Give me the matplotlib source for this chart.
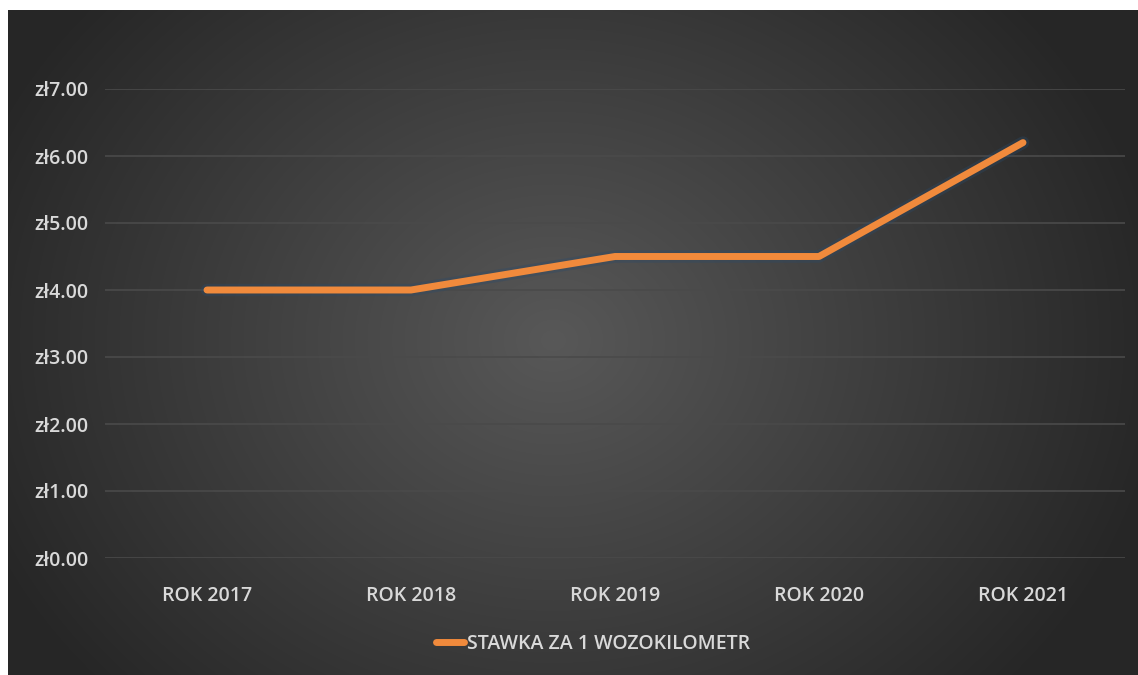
import numpy as np
import matplotlib
matplotlib.use("Agg")
import matplotlib.pyplot as plt
from matplotlib.ticker import FuncFormatter, MultipleLocator

categories = ["ROK 2017", "ROK 2018", "ROK 2019", "ROK 2020", "ROK 2021"]
values = [4.00, 4.00, 4.50, 4.50, 6.20]
series_name = "STAWKA ZA 1 WOZOKILOMETR"

W, H = 1138, 675
fig = plt.figure(figsize=(W / 100, H / 100), dpi=100)
fig.patch.set_facecolor("white")

# dark radial gradient background (white strip at top and left)
bg = fig.add_axes([8 / W, 0, 1 - 8 / W, 1 - 10 / H])
bg.set_axis_off()
yy, xx = np.mgrid[0:665, 0:1130]
cx, cy = 545, 330
r = np.sqrt(((xx - cx) / 620.0) ** 2 + ((yy - cy) / 520.0) ** 2)
r = np.clip(r, 0, 1)
c0 = np.array([0x58, 0x58, 0x58]) / 255.0
c1 = np.array([0x26, 0x26, 0x26]) / 255.0
img = c0[None, None, :] * (1 - r[..., None]) + c1[None, None, :] * r[..., None]
bg.imshow(img, aspect="auto", interpolation="bilinear")

font = "Open Sans"
txt_col = "#D9D9D9"
fs = 14
fw = "semibold"

ax = fig.add_axes([105 / W, 1 - 558 / H, 1020 / W, (558 - 89) / H])
ax.patch.set_alpha(0)
x = np.arange(len(categories))
# soft glow
ax.plot(x, values, color="#2a4a6a", lw=9, alpha=0.35, solid_capstyle="round", zorder=2)
ax.plot(x, values, color="#F08A3C", lw=5, solid_capstyle="round", solid_joinstyle="round",
        zorder=3, label=series_name)
ax.set_xlim(-0.5, len(categories) - 0.5)
ax.set_ylim(0, 7)
ax.yaxis.set_major_locator(MultipleLocator(1))
ax.yaxis.set_major_formatter(FuncFormatter(lambda v, p: "zł{:.2f}".format(v)))
ax.set_xticks(x)
ax.set_xticklabels(categories)
ax.grid(axis="y", color="#4a4a4a", lw=1.2)
ax.set_axisbelow(True)
for s in ax.spines.values():
    s.set_visible(False)
ax.tick_params(axis="both", length=0, colors=txt_col, labelsize=fs)
ax.tick_params(axis="y", pad=12)
ax.tick_params(axis="x", pad=20)
for lab in ax.get_xticklabels() + ax.get_yticklabels():
    lab.set_fontfamily(font)
    lab.set_fontweight(fw)
    lab.set_color(txt_col)

leg = fig.legend(loc="center", bbox_to_anchor=(593 / W, 1 - 644 / H), frameon=False,
                 handlelength=1.4, handletextpad=0.15,
                 prop={"family": font, "size": fs, "weight": fw})
for t in leg.get_texts():
    t.set_color(txt_col)

fig.savefig("out.png", dpi=100, facecolor=fig.get_facecolor())
